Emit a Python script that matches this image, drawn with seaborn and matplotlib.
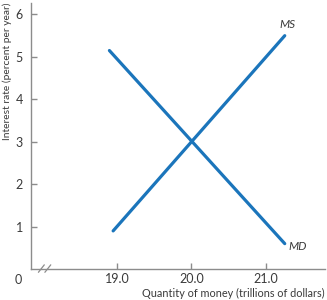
import numpy as np
import pandas as pd
import matplotlib
matplotlib.use('Agg')
import matplotlib.pyplot as plt
import seaborn as sns

# Money supply and money demand endpoints (trillions of dollars, percent per year)
ms_quantity = [18.95, 21.25]
ms_rate = [0.9, 5.5]
md_quantity = [18.9, 21.25]
md_rate = [5.15, 0.6]

x_ticks = [19.0, 20.0, 21.0]
x_tick_labels = ["19.0", "20.0", "21.0"]
y_ticks = [1, 2, 3, 4, 5, 6]

blue = "#1b75bb"
gray = "#8c8c8c"
text_color = "#3a3a3a"

sns.set_style("ticks")
plt.rcParams['font.family'] = ['Lato', 'DejaVu Sans']

df = pd.concat([
    pd.DataFrame({"quantity": ms_quantity, "rate": ms_rate, "curve": "MS"}),
    pd.DataFrame({"quantity": md_quantity, "rate": md_rate, "curve": "MD"}),
])

fig = plt.figure(figsize=(3.27, 3.0), dpi=100)
ax = fig.add_axes([0.095, 0.103, 0.899, 0.887])

sns.lineplot(data=df, x="quantity", y="rate", units="curve", estimator=None,
             color=blue, linewidth=2.3, ax=ax, legend=False)

ax.set_xlim(17.85, 21.79)
ax.set_ylim(0, 6.27)
ax.set_xticks(x_ticks)
ax.set_xticklabels(x_tick_labels)
ax.set_yticks(y_ticks)

for side in ["top", "right"]:
    ax.spines[side].set_visible(False)
for side in ["left", "bottom"]:
    ax.spines[side].set_color(gray)
    ax.spines[side].set_linewidth(1.0)
ax.tick_params(direction="in", length=4, width=1, color=gray,
               labelsize=9, labelcolor=text_color)
ax.tick_params(axis="x", pad=3)
ax.tick_params(axis="y", pad=6)

ax.set_xlabel("")
ax.set_ylabel("")
fig.text(0.994, 0.004, "Quantity of money (trillions of dollars)", ha="right",
         va="bottom", fontsize=7.8, color=text_color)
fig.text(0.008, 0.99, "Interest rate (percent per year)", ha="left", va="top",
         rotation=90, fontsize=7.4, color=text_color)

# origin label and axis break
ax.text(-0.03, -0.018, "0", transform=ax.transAxes, ha="right", va="top",
        fontsize=9, color=text_color)
for dx in [0.0, 0.022]:
    ax.plot([0.025 + dx, 0.045 + dx], [-0.012, 0.016], transform=ax.transAxes,
            color=gray, linewidth=0.9, clip_on=False)

# curve labels
ax.annotate("MS", (ms_quantity[1], ms_rate[1]), xytext=(-4, 4),
            textcoords="offset points", ha="left", va="bottom",
            fontsize=8.5, style="italic", color=text_color)
ax.annotate("MD", (md_quantity[1], md_rate[1]), xytext=(3, -2),
            textcoords="offset points", ha="left", va="center",
            fontsize=8.5, style="italic", color=text_color)

fig.savefig("out.png", dpi=100)
